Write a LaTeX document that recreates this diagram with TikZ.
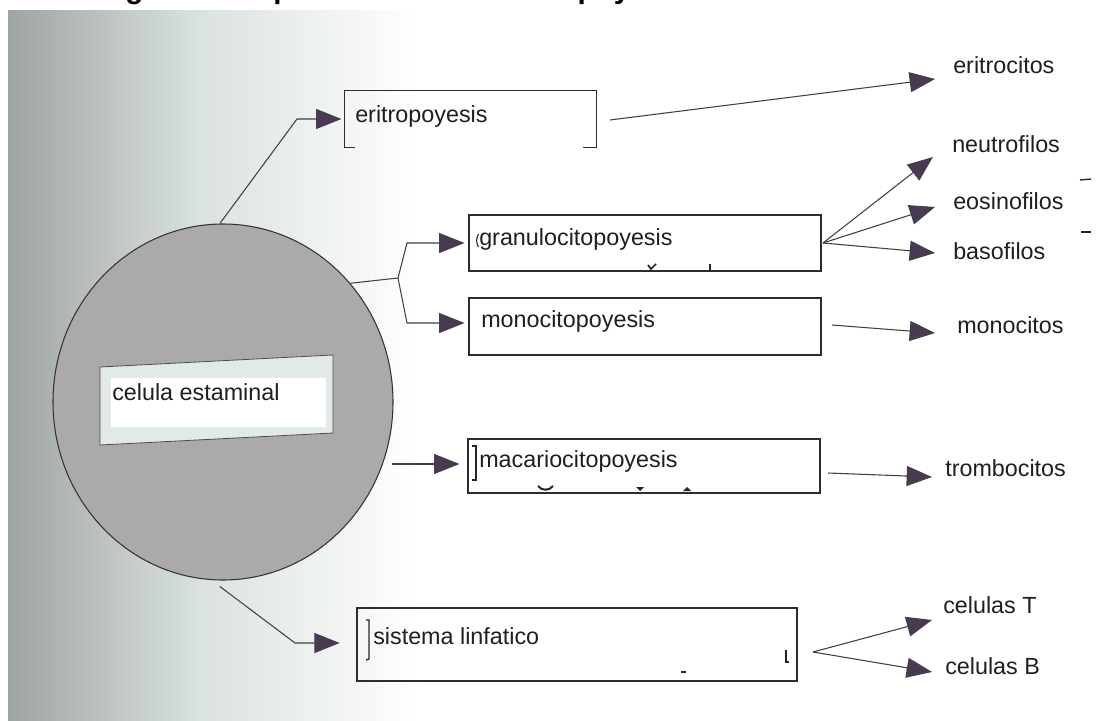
\documentclass[tikz,border=0pt]{standalone}
\usepackage{fontspec}
\setmainfont{Liberation Sans}
\usetikzlibrary{arrows.meta,shapes.geometric,fit,calc}
\definecolor{scanL}{RGB}{158,164,161}
\definecolor{scanM}{RGB}{218,226,224}
\definecolor{cellgray}{RGB}{170,170,170}
\definecolor{headc}{RGB}{72,58,80}
\definecolor{linec}{RGB}{65,65,65}
\definecolor{tagband}{RGB}{226,233,233}
\definecolor{boxc}{RGB}{45,45,45}
\begin{document}
\begin{tikzpicture}[x=0.75pt,y=-0.75pt,
  lbl/.style={anchor=base west, inner sep=0, text=black!88, font=\fontsize{17.5pt}{21pt}\selectfont},
  boxd/.style={draw=boxc, line width=0.9pt, inner sep=0},
  boxn/.style={inner sep=0},
  ln/.style={draw=linec, line width=0.8pt},
  arr/.style={draw=linec, line width=0.8pt, -{Triangle[length=19pt,width=15pt,color=headc]}},
  scanmark/.style={draw=black!85, line width=1pt}]
\useasboundingbox (0,0) rectangle (1097,721);
\clip (0,0) rectangle (1097,721);
\fill[white] (0,0) rectangle (1097,721);
\shade[left color=scanL, right color=scanM] (8,10) rectangle (200,721);
\shade[left color=scanM, right color=white] (199.5,10) rectangle (420,721);
% title (cut by the top edge)
\node[anchor=base west, inner sep=0, font=\bfseries\fontsize{22.2pt}{26pt}\selectfont] (title) at (79,-1.5) {Diagrama del proceso de la hematopoyesis};
% stem cell
\node[ellipse, draw=black!80, fill=cellgray, line width=0.8pt, minimum width=255pt, minimum height=267pt, inner sep=0] (cell) at (223,402) {};
\filldraw[fill=tagband, draw=black!70, line width=0.6pt] (100,367) -- (333,355) -- (333,433) -- (100,445) -- cycle;
\fill[white] (111,378) rectangle (326,427);
\node[lbl] (tstem) at (112,400) {celula estaminal};
% boxes
\node[boxn, fit={(345,91) (596,147)}] (bEri) {};
\draw[draw=boxc, line width=0.9pt] ($(bEri.south west)+(10,0)$) -- (bEri.south west) -- (bEri.north west) -- (bEri.north east) -- (bEri.south east) -- ++(-13,0);
\node[boxd, fit={(469,215) (821,271)}] (bGra) {};
\node[boxd, fit={(469,298) (821,355)}] (bMon) {};
\node[boxd, fit={(468,439) (820,493)}] (bMac) {};
\node[boxd, fit={(357,608) (797,681)}] (bSis) {};
\node[lbl] (tEri) at (355,122) {eritropoyesis};
\node[lbl] (tGra) at (479,245) {granulocitopoyesis};
\node[lbl] (tMon) at (481,327) {monocitopoyesis};
\node[lbl] (tMac) at (479,467) {macariocitopoyesis};
\node[lbl] (tSis) at (373,644) {sistema linfatico};
% outputs
\node[lbl] (oEri) at (953,73) {eritrocitos};
\node[lbl] (oNeu) at (952,152) {neutrofilos};
\node[lbl] (oEos) at (953,209) {eosinofilos};
\node[lbl] (oBas) at (953,259) {basofilos};
\node[lbl] (oMon) at (957,333) {monocitos};
\node[lbl] (oTro) at (945,476) {trombocitos};
\node[lbl] (oT) at (943,613) {celulas T};
\node[lbl] (oB) at (945,674) {celulas B};
% bend points and arrow ends
\coordinate (k1) at (297,119);
\coordinate (br) at (398,278);
\coordinate (brU) at (407,243);
\coordinate (brD) at (407,323);
\coordinate (k4) at (295,643);
\coordinate (sEri) at (610,120);
\coordinate (eEri) at (935,79);
\coordinate (fan) at (823,243);
\coordinate (eNeu) at (933,157);
\coordinate (eEos) at (935,207);
\coordinate (eBas) at (935,253);
\coordinate (sMon) at (832,325);
\coordinate (eMon) at (935,333);
\coordinate (sTro) at (828,473);
\coordinate (eTro) at (932,477);
\coordinate (fanS) at (813,652);
\coordinate (eT) at (932,620);
\coordinate (eB) at (932,672);
\coordinate (sMac) at (392,464);
% connectors
\draw[arr, shorten >=2.5pt] (cell.91) -- (k1) -- (bEri.west);
\draw[ln] (cell.43) -- (br);
\draw[arr, shorten >=3pt] (br) -- (brU) -- (bGra.west |- brU);
\draw[arr, shorten >=3pt] (br) -- (brD) -- (bMon.west |- brD);
\draw[arr, shorten >=6pt] (sMac) -- (bMac.west |- sMac);
\draw[arr, shorten >=12.5pt] ($(cell.-91)+(0,6)$) -- (k4) -- (bSis.west |- k4);
\draw[arr] (sEri) -- (eEri);
\draw[arr] (fan) -- (eNeu);
\draw[arr] (fan) -- (eEos);
\draw[arr] (fan) -- (eBas);
\draw[arr] (sMon) -- (eMon);
\draw[arr] (sTro) -- (eTro);
\draw[arr] (fanS) -- (eT);
\draw[arr] (fanS) -- (eB);
% scan marks
\draw[scanmark, line width=0.8pt] (478.5,234) .. controls (476,238) and (476,243) .. (478.5,247);
\draw[scanmark, line width=1.3pt] (648,265) -- (651,269) -- (656,264);
\draw[scanmark, line width=1.3pt] (710,264) -- (710,271);
\draw[scanmark, line width=1.6pt] (472,446) -- (476,446) -- (476,480) -- (472,480);
\draw[scanmark, line width=1.5pt] (538,486) .. controls (542,491) and (549,491) .. (553,486);
\fill[black!85] (636,487) -- (644,487) -- (640,491) -- cycle;
\fill[black!85] (683,491) -- (691,491) -- (687,487) -- cycle;
\draw[scanmark] (366,620) -- (369,620) -- (369,659) -- (366,660);
\draw[scanmark] (786,650) -- (786,662) -- (789,662);
\draw[scanmark] (681,672) -- (686,672);
\draw[scanmark] (1080,180) -- (1091,179);
\draw[scanmark] (1081,232) -- (1091,232);
\end{tikzpicture}
\end{document}
